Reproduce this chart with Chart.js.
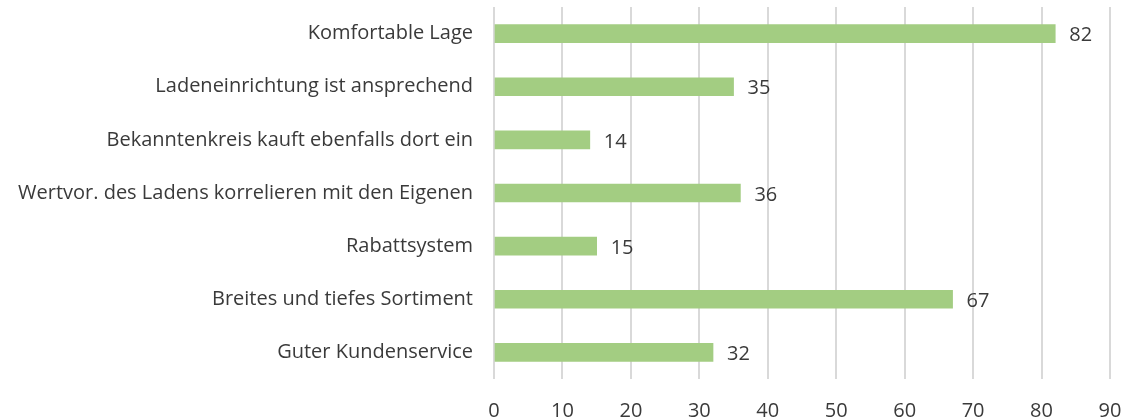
<!DOCTYPE html>
<html>
<head>
<meta charset="utf-8">
<script src="https://cdn.jsdelivr.net/npm/chart.js@4/dist/chart.umd.min.js"></script>
<style>
  html, body { margin: 0; padding: 0; background: #fff; }
  #wrap { width: 1145px; height: 418px; }
</style>
</head>
<body>
<div id="wrap"><canvas id="chart" width="1145" height="418"></canvas></div>
<script>
// Data
const categories = [
    'Komfortable Lage',
    'Ladeneinrichtung ist ansprechend',
    'Bekanntenkreis kauft ebenfalls dort ein',
    'Wertvor. des Ladens korrelieren mit den Eigenen',
    'Rabattsystem',
    'Breites und tiefes Sortiment',
    'Guter Kundenservice'
];
const values = [82, 35, 14, 36, 15, 67, 32];
const xTicks = [0, 10, 20, 30, 40, 50, 60, 70, 80, 90];

const FONT = "'Open Sans', 'Noto Sans', sans-serif";
const TEXT_COLOR = '#3a3a3a';

// Draw value labels right of each bar
const valueLabels = {
    id: 'valueLabels',
    afterDatasetsDraw(chart) {
        const ctx = chart.ctx;
        const meta = chart.getDatasetMeta(0);
        ctx.save();
        ctx.font = '20px ' + FONT;
        ctx.fillStyle = TEXT_COLOR;
        ctx.textAlign = 'left';
        ctx.textBaseline = 'middle';
        meta.data.forEach(function(bar, i) {
            ctx.fillText(values[i], bar.x + 14, bar.y + 2);
        });
        ctx.restore();
    }
};

new Chart(document.getElementById('chart').getContext('2d'), {
    type: 'bar',
    data: {
        labels: categories,
        datasets: [{
            data: values,
            backgroundColor: '#a3cd82',
            borderWidth: 0,
            barThickness: 18
        }]
    },
    options: {
        indexAxis: 'y',
        responsive: false,
        animation: false,
        layout: { padding: { top: 7, right: 35, left: 0, bottom: 0 } },
        plugins: {
            legend: { display: false },
            tooltip: { enabled: false }
        },
        scales: {
            x: {
                min: 0,
                max: 90,
                afterBuildTicks: function(axis) {
                    axis.ticks = xTicks.map(function(v) { return { value: v }; });
                },
                afterFit: function(axis) { axis.height = 39; },
                grid: {
                    color: '#d9d9d9',
                    lineWidth: 2,
                    drawTicks: false
                },
                border: { display: false },
                ticks: {
                    color: TEXT_COLOR,
                    font: { family: FONT, size: 20 },
                    padding: 20
                }
            },
            y: {
                afterFit: function(axis) {
                    axis.width = 494;
                    axis.paddingTop = 0;
                    axis.paddingBottom = 0;
                },
                grid: { display: false, drawTicks: false },
                border: { display: false },
                ticks: {
                    color: TEXT_COLOR,
                    font: { family: FONT, size: 20 },
                    padding: 21
                }
            }
        }
    },
    plugins: [valueLabels]
});
</script>
</body>
</html>
